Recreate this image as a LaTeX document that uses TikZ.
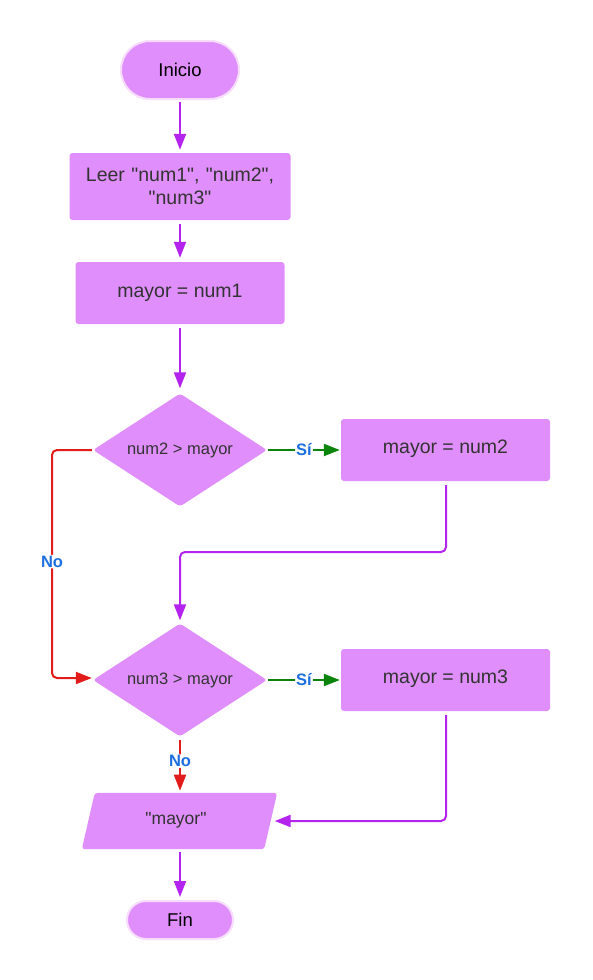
\documentclass[tikz,border=0pt]{standalone}
\usepackage{fontspec}
\setmainfont{Liberation Sans}[Ligatures=TeXOff]
\usetikzlibrary{shapes.geometric,shapes.misc,arrows.meta,calc}
\definecolor{boxfill}{HTML}{DF8EFB}
\definecolor{halo}{HTML}{F6DDFE}
\definecolor{purp}{HTML}{B524EE}
\definecolor{redl}{HTML}{E21B1B}
\definecolor{greenl}{HTML}{0B840B}
\definecolor{bluel}{HTML}{1D6FDF}
\definecolor{txt}{HTML}{333333}
\begin{document}
\begin{tikzpicture}[x=1pt,y=-1pt,
  term/.style={rounded rectangle,fill=boxfill,draw=halo,line width=2pt,font=\fontsize{18.5}{20}\selectfont,text=black,inner sep=0pt},
  procbox/.style={rectangle,rounded corners=3pt,fill=boxfill,font=\fontsize{19.5}{23}\selectfont,text=txt,inner sep=0pt,align=center},
  decide/.style={diamond,fill=boxfill,rounded corners=3pt,font=\fontsize{16.5}{18}\selectfont,text=txt,inner sep=0pt,minimum width=174pt,minimum height=113pt,aspect=1.54},
  flow/.style={draw=purp,line width=2pt,-{Triangle[length=16pt,width=12pt]},rounded corners=5pt},
  noflow/.style={draw=redl,line width=2pt,-{Triangle[length=16pt,width=12pt]},rounded corners=5pt},
  siflow/.style={draw=greenl,line width=2pt,-{Triangle[length=16pt,width=12pt]}},
  lab/.style={fill=white,text=bluel,font=\bfseries\fontsize{16.5}{18}\selectfont,inner sep=1pt}
]
\useasboundingbox (0,0) rectangle (592,980);
\fill[white] (0,0) rectangle (592,980);

\node[term,minimum width=118pt,minimum height=58pt] (inicio) at (180,70) {Inicio};
\node[procbox,minimum width=221pt,minimum height=67pt,text width=215pt] (leer) at (180,186.5) {Leer "num1", "num2",\\"num3"};
\node[procbox,minimum width=209pt,minimum height=62pt] (m1) at (180,293) {mayor = num1};
\node[decide] (d1) at (180,450) {num2 > mayor};
\node[procbox,minimum width=209pt,minimum height=62pt,text depth=6pt] (m2) at (445.5,450) {mayor = num2};
\node[decide] (d2) at (180,680) {num3 > mayor};
\node[procbox,minimum width=209pt,minimum height=62pt,text depth=6pt] (m3) at (445.5,680) {mayor = num3};
\node[rectangle,minimum width=182pt,minimum height=56pt,inner sep=0pt] (out) at (179.5,821) {};
\fill[boxfill,rounded corners=3pt] ($(out.north west)+(6.5,0)$) -- ($(out.north east)+(6.5,0)$) -- ($(out.south east)+(-6.5,0)$) -- ($(out.south west)+(-6.5,0)$) -- cycle;
\node[font=\fontsize{17.5}{20}\selectfont,text=txt] at (176,820) {"mayor"};
\node[term,minimum width=106pt,minimum height=38pt] (fin) at (180,920) {Fin};

\draw[flow] ($(inicio.south)+(0,2)$) -- ($(leer.north)+(0,-3)$);
\draw[flow] ($(leer.south)+(0,4)$) -- ($(m1.north)+(0,-4)$);
\draw[flow] ($(m1.south)+(0,4)$) -- ($(d1.north)+(0,-5)$);
\draw[siflow] ($(d1.east)+(1,0)$) -- node[lab,pos=0.5]{Sí} ($(m2.west)+(-1,0)$);
\draw[siflow] ($(d2.east)+(1,0)$) -- node[lab,pos=0.5]{Sí} ($(m3.west)+(-1,0)$);
\coordinate (c1) at (446,552);
\draw[flow] ($(m2.south)+(0.5,4)$) -- (c1) -| ($(d2.north)+(0,-3)$);
\coordinate (c2) at (52,450);
\coordinate (c3) at (52,678);
\draw[noflow] ($(d1.west)+(-1,0)$) -- (c2) -- node[lab,pos=0.49]{No} (c3) -- ($(d2.west)+(-1,-2)$);
\draw[noflow] ($(d2.south)+(0,3)$) -- node[lab,pos=0.42]{No} ($(d2.south)+(0,54)$);
\coordinate (c4) at (446,821);
\draw[flow] ($(m3.south)+(0.5,4)$) -- (c4) -- ($(out.east)+(4,0)$);
\draw[flow] (180,852) -- ($(fin.north)+(0,-3)$);
\end{tikzpicture}
\end{document}
